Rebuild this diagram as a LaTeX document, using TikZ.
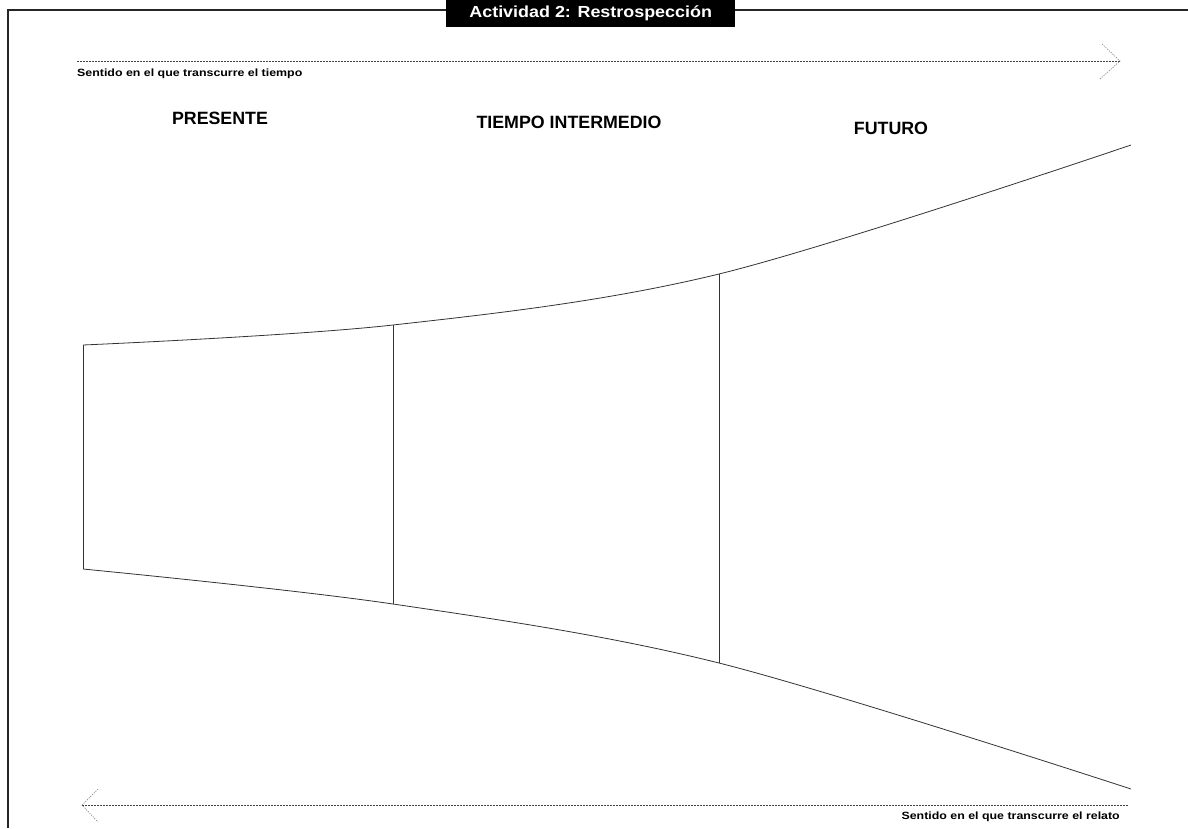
\documentclass[tikz,border=0pt]{standalone}
\usepackage{fontspec}
\usepackage{graphicx}
\setmainfont{Liberation Sans}
\newcommand{\widen}[2]{\scalebox{#1}[1]{#2}}
\begin{document}
\begin{tikzpicture}[x=1pt,y=-1pt,
  frame/.style={line width=1.3pt,draw=black!85},
  shapeline/.style={line width=0.8pt,draw=black!80},
  dashline/.style={line width=0.7pt,draw=black!75,dash pattern=on 2pt off 1pt},
  chevron/.style={line width=0.7pt,draw=black!45,dash pattern=on 1.2pt off 1.2pt},
  heading/.style={font=\fontsize{17.8}{20}\selectfont\bfseries,text=black,inner sep=0pt},
  small/.style={font=\fontsize{10.5}{12}\selectfont\bfseries,text=black,inner sep=0pt},
  titlebox/.style={fill=black,text=white,font=\fontsize{16}{18}\selectfont\bfseries,minimum width=289pt,minimum height=27pt,inner sep=0pt}]
\useasboundingbox (0,0) rectangle (1188,828);
\fill[white] (0,0) rectangle (1188,828);
% frame
\coordinate (fl) at (8,828);
\coordinate (ftl) at (8,10);
\coordinate (ftr) at (1188,10);
\draw[frame] (fl) -- (ftl) -- (ftr);
\node[titlebox,anchor=north west] (title) at (446,0) {\widen{1.12}{Actividad 2: Restrospección}};
% top arrow
\coordinate (ta0) at (77,61);
\coordinate (ta1) at (1120,61);
\coordinate (tc1) at (1102,44);
\coordinate (tc2) at (1100,79);
\draw[dashline] (ta0) -- (ta1);
\draw[chevron] (tc1) -- (ta1) -- (tc2);
\node[small,anchor=west] (ttime) at (77,73.5) {\widen{1.18}{Sentido en el que transcurre el tiempo}};
% bottom arrow
\coordinate (ba0) at (1128,805);
\coordinate (ba1) at (82,805);
\coordinate (bc1) at (98,789);
\coordinate (bc2) at (98,822);
\draw[dashline] (ba0) -- (ba1);
\draw[chevron] (bc1) -- (ba1) -- (bc2);
\node[small,anchor=east] (trelato) at (1120,817) {\widen{1.18}{Sentido en el que transcurre el relato}};
% headings
\node[heading] (h1) at (220,118.5) {PRESENTE};
\node[heading] (h2) at (569,122.5) {TIEMPO INTERMEDIO};
\node[heading] (h3) at (891,128.5) {FUTURO};
% funnel
\coordinate (t0) at (83,345);
\coordinate (t1) at (393,325);
\coordinate (t2) at (719,274);
\coordinate (t3) at (1131,145);
\coordinate (b0) at (83,569);
\coordinate (b1) at (393,604);
\coordinate (b2) at (719,663);
\coordinate (b3) at (1131,789);
\draw[shapeline] plot[smooth,tension=0.55] coordinates {(t0) (t1) (t2) (t3)};
\draw[shapeline] plot[smooth,tension=0.55] coordinates {(b0) (b1) (b2) (b3)};
\draw[shapeline] (t0) -- (b0);
\draw[shapeline] (t1) -- (b1);
\draw[shapeline] (t2) -- (b2);
\end{tikzpicture}
\end{document}
